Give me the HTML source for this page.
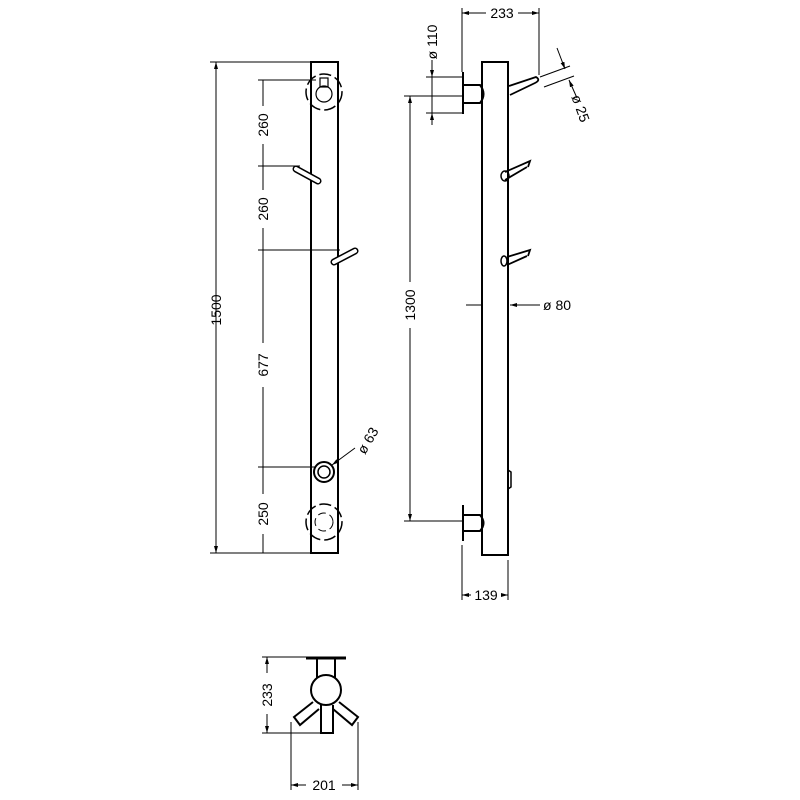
<!DOCTYPE html>
<html><head><meta charset="utf-8"><style>html,body{margin:0;padding:0;background:#fff}svg{display:block}text{font-family:"Liberation Sans",sans-serif;font-size:14px;fill:#000}</style></head><body>
<svg width="800" height="800" viewBox="0 0 800 800" xmlns="http://www.w3.org/2000/svg">
<defs><marker id="a" markerWidth="8" markerHeight="6" refX="7" refY="3" orient="auto-start-reverse"><path d="M0,1 L7,3 L0,5 Z" fill="#000"/></marker></defs>
<g stroke="#000" fill="none">
<!-- LEFT VIEW -->
<rect x="311" y="62" width="27" height="491" stroke-width="2"/>
<g stroke-width="1">
<line x1="210" y1="62" x2="311" y2="62"/><line x1="210" y1="553" x2="311" y2="553"/>
<line x1="216" y1="62" x2="216" y2="553" marker-start="url(#a)" marker-end="url(#a)"/>
<line x1="258" y1="80" x2="316" y2="80"/><line x1="258" y1="166" x2="300" y2="166"/><line x1="258" y1="250" x2="340" y2="250"/><line x1="258" y1="467" x2="316" y2="467"/>
<line x1="263" y1="80" x2="263" y2="106"/><line x1="263" y1="144" x2="263" y2="190"/><line x1="263" y1="228" x2="263" y2="343"/><line x1="263" y1="387" x2="263" y2="494"/><line x1="263" y1="534" x2="263" y2="553"/>
</g>
<circle cx="324" cy="92" r="18" stroke-width="1.5" stroke-dasharray="12,4"/>
<circle cx="324" cy="94" r="8" stroke-width="1.2"/>
<rect x="320" y="78" width="8" height="9" stroke-width="1.2"/>
<path d="M296,169 L318,181" stroke-width="7" stroke-linecap="round"/><path d="M296,169 L318,181" stroke="#fff" stroke-width="4" stroke-linecap="round"/>
<path d="M334,262 L355,251" stroke-width="7" stroke-linecap="round"/><path d="M334,262 L355,251" stroke="#fff" stroke-width="4" stroke-linecap="round"/>
<circle cx="324" cy="472" r="10" stroke-width="2"/><circle cx="324" cy="472" r="6" stroke-width="1.5"/>
<line x1="332" y1="465" x2="355" y2="448" stroke-width="1" marker-start="url(#a)"/>
<circle cx="324" cy="522" r="18" stroke-width="1.5" stroke-dasharray="12,4"/>
<circle cx="324" cy="522" r="9" stroke-width="1" stroke-dasharray="8,4"/>
<!-- RIGHT VIEW -->
<rect x="482" y="62" width="26" height="493" stroke-width="2"/>
<line x1="463" y1="72" x2="463" y2="114" stroke-width="2"/>
<path d="M463,85 L480,85 Q487,94 480,103 L463,103" stroke-width="2"/>
<line x1="463" y1="505" x2="463" y2="541" stroke-width="2"/>
<path d="M463,515 L480,515 Q487,523 480,531 L463,531" stroke-width="2"/>
<path d="M508,470 L511,472 L511,487 L508,489" stroke-width="1.5"/>
<path d="M509,86 L536,77 Q541,80 535,83 L510,95" stroke-width="1.8"/>
<path d="M505,180 L527,167 M505,172 L530,161 L528,167" stroke-width="1.8"/><ellipse cx="505" cy="176" rx="4" ry="5" stroke-width="1.5"/>
<path d="M507,265 L527,256 M507,257 L530,250 L528,256" stroke-width="1.8"/><ellipse cx="504" cy="261" rx="3" ry="5" stroke-width="1.5"/>
<g stroke-width="1">
<line x1="462" y1="8" x2="462" y2="72"/><line x1="539" y1="8" x2="539" y2="75"/>
<line x1="462" y1="13" x2="486" y2="13" marker-start="url(#a)"/><line x1="518" y1="13" x2="539" y2="13" marker-end="url(#a)"/>
<line x1="426" y1="77" x2="462" y2="77"/><line x1="426" y1="113" x2="462" y2="113"/>
<line x1="432" y1="60" x2="432" y2="77" marker-end="url(#a)"/><line x1="432" y1="113" x2="432" y2="125" marker-start="url(#a)"/><line x1="432" y1="77" x2="432" y2="113"/>
<line x1="404" y1="96" x2="462" y2="96"/><line x1="404" y1="521" x2="462" y2="521"/>
<line x1="410" y1="96" x2="410" y2="282" marker-start="url(#a)"/><line x1="410" y1="328" x2="410" y2="521" marker-end="url(#a)"/>
<line x1="540" y1="77" x2="570" y2="66"/><line x1="544" y1="87" x2="574" y2="76"/>
<line x1="557" y1="48" x2="565" y2="69" marker-end="url(#a)"/><line x1="569" y1="80" x2="577" y2="98" marker-start="url(#a)"/>
<line x1="466" y1="305" x2="482" y2="305"/>
<line x1="540" y1="305" x2="510" y2="305" marker-end="url(#a)"/>
<line x1="462" y1="545" x2="462" y2="600"/><line x1="508" y1="560" x2="508" y2="600"/>
<line x1="462" y1="595" x2="471" y2="595" marker-start="url(#a)"/><line x1="501" y1="595" x2="508" y2="595" marker-end="url(#a)"/>
</g>
<!-- BOTTOM VIEW -->
<line x1="306" y1="658" x2="346" y2="658" stroke-width="3"/>
<path d="M317,658 L317,678 M335,658 L335,678" stroke-width="2"/>
<circle cx="326" cy="690" r="15" stroke-width="2"/>
<path d="M321,705 L321,733 L333,733 L333,705" stroke-width="2"/>
<path d="M313,702 L294,717 L300,725 L319,709" stroke-width="2"/>
<path d="M339,702 L358,717 L352,725 L333,709" stroke-width="2"/>
<g stroke-width="1">
<line x1="262" y1="657" x2="306" y2="657"/><line x1="262" y1="733" x2="321" y2="733"/>
<line x1="267" y1="657" x2="267" y2="673" marker-start="url(#a)"/><line x1="267" y1="714" x2="267" y2="733" marker-end="url(#a)"/>
<line x1="291" y1="722" x2="291" y2="790"/><line x1="358" y1="722" x2="358" y2="790"/>
<line x1="291" y1="785" x2="306" y2="785" marker-start="url(#a)"/><line x1="342" y1="785" x2="358" y2="785" marker-end="url(#a)"/>
</g>
</g>
<text transform="translate(221,310) rotate(-90)" text-anchor="middle">1500</text>
<text transform="translate(268,125) rotate(-90)" text-anchor="middle">260</text>
<text transform="translate(268,209) rotate(-90)" text-anchor="middle">260</text>
<text transform="translate(268,365) rotate(-90)" text-anchor="middle">677</text>
<text transform="translate(268,514) rotate(-90)" text-anchor="middle">250</text>
<text transform="translate(372,443) rotate(-60)" text-anchor="middle">ø 63</text>
<text x="502" y="18" text-anchor="middle">233</text>
<text transform="translate(437,42) rotate(-90)" text-anchor="middle">ø 110</text>
<text transform="translate(415,305) rotate(-90)" text-anchor="middle">1300</text>
<text transform="translate(576,110) rotate(70)" text-anchor="middle">ø 25</text>
<text x="543" y="310">ø 80</text>
<text x="486" y="600" text-anchor="middle">139</text>
<text transform="translate(272,695) rotate(-90)" text-anchor="middle">233</text>
<text x="324" y="790" text-anchor="middle">201</text>
</svg>
</body></html>
